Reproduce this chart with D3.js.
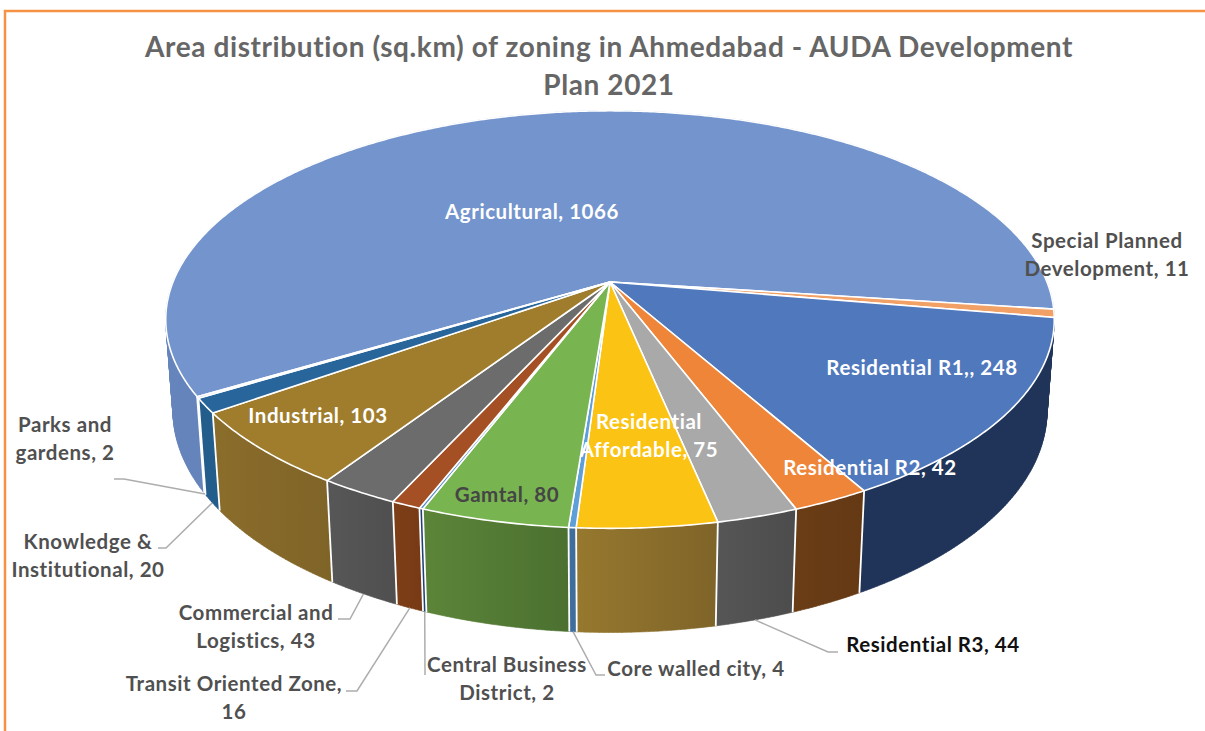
<!DOCTYPE html>
<html>
<head>
<meta charset="utf-8">
<title>AUDA zoning</title>
<script src="https://cdnjs.cloudflare.com/ajax/libs/d3/7.8.5/d3.min.js"></script>
<style>
  html, body { margin:0; padding:0; background:#fff; }
  svg { display:block; }
  text { font-family:Lato, "Open Sans", sans-serif; font-weight:700; font-variant-ligatures:none; }
</style>
</head>
<body>
<div id="chart"></div>
<script>
"use strict";
// values, clockwise starting at Agricultural
const categories = ["Agricultural", "Special Planned Development", "Residential R1,", "Residential R2", "Residential R3",
  "Residential Affordable", "Core walled city", "Gamtal", "Central Business District", "Transit Oriented Zone",
  "Commercial and Logistics", "Industrial", "Knowledge & Institutional", "Parks and gardens"];
const areas = [1066, 11, 248, 42, 44, 75, 4, 80, 2, 16, 43, 103, 20, 2];

const topColors = ["#7394cc", "#f2a166", "#4f78bd", "#ee8538", "#a9a9a9", "#fbc313", "#5f9fd8", "#78b44f",
  "#5b8fcb", "#a45024", "#6c6c6c", "#9f7d2d", "#27659b", "#7fa8d8"];
const wallLeft = ["#6484bb", "#b5733f", "#203459", "#6a3d16", "#565656", "#96782e", "#3f6d9c", "#5c8539",
  "#1f3f78", "#7e3f17", "#575757", "#8b6d2b", "#235d8c", "#5a86b5"];
const wallRight = ["#5f80b8", "#b5733f", "#203459", "#643914", "#4c4c4c", "#7f6429", "#3f6d9c", "#4b7030",
  "#1f3f78", "#773a15", "#4f4f4f", "#7f6428", "#235d8c", "#5a86b5"];

// label lines and their centre, one entry per category
const labelLines = [["Agricultural, 1066"], ["Special Planned", "Development, 11"], ["Residential R1,, 248"],
  ["Residential R2, 42"], ["Residential R3, 44"], ["Residential", "Affordable, 75"], ["Core walled city, 4"],
  ["Gamtal, 80"], ["Central Business", "District, 2"], ["Transit Oriented Zone,", "16"],
  ["Commercial and", "Logistics, 43"], ["Industrial, 103"], ["Knowledge &", "Institutional, 20"], ["Parks and", "gardens, 2"]];
const labelX = [532, 1107, 922, 870, 933, 649, 696, 507, 507, 234, 256, 318, 88, 65];
const labelY = [211, 240, 367, 467, 644, 421, 668, 494, 664, 683, 612, 415, 541, 424];
const labelFill = ["#fff", "#505050", "#fff", "#fff", "#111", "#fff", "#505050", "#454545", "#505050", "#505050",
  "#505050", "#fff", "#505050", "#505050"];
// elbow of the leader lines: [tail x, elbow x, y]; null when the label has none
const leaders = [null, null, null, null, [838, 828, 652], null, [605, 596, 675], null, [425, 425, 675],
  [346, 357, 691], [338, 350, 619], null, [158, 166, 548], [114, 124, 479]];

const width = 1205, height = 731;
const svg = d3.select("#chart").append("svg").attr("width", width).attr("height", height);

// the frame round the original figure
svg.append("path").attr("d", "M1205,11H5V731").attr("fill", "none").attr("stroke", "#f79244").attr("stroke-width", 2.5);

svg.append("text").attr("x", 609).attr("y", 46).attr("text-anchor", "middle").attr("dominant-baseline", "central")
  .attr("font-size", 28).attr("letter-spacing", 0.6).attr("fill", "#666")
  .text("Area distribution (sq.km) of zoning in Ahmedabad - AUDA Development");
svg.append("text").attr("x", 609).attr("y", 84).attr("text-anchor", "middle").attr("dominant-baseline", "central")
  .attr("font-size", 28).attr("letter-spacing", 0.6).attr("fill", "#666").text("Plan 2021");

const deg = Math.PI / 180;
const pie = d3.pie().sort(null).startAngle(-121 * deg).endAngle(239 * deg);
const arcs = pie(areas);

// perspective projection of the tilted disc
const cx = 610, cy = 282, radius = 437, tilt = 202, depth = 0.18, thick = 91, thickDepth = 0.016;
function project(angle, r, z) {
  const px = Math.sin(angle) * r, py = -Math.cos(angle) * r;
  const w = 1 - depth * py + thickDepth * z;
  return [cx + radius * px / w, cy + (tilt * py + thick * z) / w];
}
function rim(a0, a1, z) {
  const n = Math.max(2, Math.ceil((a1 - a0) / (0.5 * deg)));
  return d3.range(n + 1).map(i => project(a0 + (a1 - a0) * i / n, 1, z));
}
const line = d3.line();
const defs = svg.append("defs");

// outer walls first, the top faces then hide the back part
// each wall is a strip of small quads so the sides of the disc fill in where the two rims cross
const wallOrder = d3.range(arcs.length).sort((a, b) =>
  Math.cos((arcs[b].startAngle + arcs[b].endAngle) / 2) - Math.cos((arcs[a].startAngle + arcs[a].endAngle) / 2));
wallOrder.forEach(i => {
  const d = arcs[i];
  const g = defs.append("linearGradient").attr("id", "wall" + i);
  g.append("stop").attr("offset", 0).attr("stop-color", wallLeft[i]);
  g.append("stop").attr("offset", 1).attr("stop-color", wallRight[i]);
  const up = rim(d.startAngle, d.endAngle, 0), down = rim(d.startAngle, d.endAngle, 1);
  let strip = "";
  for (let k = 0; k < up.length - 1; k++) {
    strip += line([up[k], up[k + 1], down[k + 1], down[k]]) + "Z";
  }
  svg.append("path").attr("d", strip).attr("fill", "url(#wall" + i + ")")
    .attr("stroke", "url(#wall" + i + ")").attr("stroke-width", 0.6);
});
// white seams between the walls, only on the front side
arcs.forEach(d => {
  if (Math.cos(d.startAngle) > -0.3) return;
  svg.append("path").attr("d", line([project(d.startAngle, 1, 0), project(d.startAngle, 1, 1)]))
    .attr("stroke", "#fff").attr("stroke-width", 1.8);
});

arcs.forEach((d, i) => {
  const pts = [project(0, 0, 0)].concat(rim(d.startAngle, d.endAngle, 0));
  svg.append("path").attr("d", line(pts) + "Z").attr("fill", topColors[i])
    .attr("stroke", "#fff").attr("stroke-width", 1.6).attr("stroke-linejoin", "round");
});

// leader lines end on the lower rim of their slice
leaders.forEach((l, i) => {
  if (!l) return;
  const d = arcs[i];
  const end = project((d.startAngle + d.endAngle) / 2, 1, 1);
  svg.append("path").attr("d", line([[l[0], l[2]], [l[1], l[2]], end]))
    .attr("fill", "none").attr("stroke", "#adadad").attr("stroke-width", 1.5);
});

labelLines.forEach((lines, i) => {
  lines.forEach((t, j) => {
    svg.append("text").attr("x", labelX[i]).attr("y", labelY[i] + j * 28)
      .attr("text-anchor", "middle").attr("dominant-baseline", "central")
      .attr("font-size", 20.5).attr("letter-spacing", 0.55).attr("fill", labelFill[i]).text(t);
  });
});
</script>
</body>
</html>
